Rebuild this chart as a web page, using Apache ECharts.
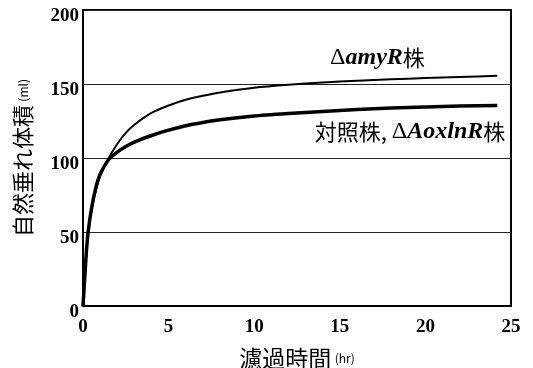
<!DOCTYPE html>
<html><head><meta charset="utf-8">
<script src="https://cdn.jsdelivr.net/npm/echarts@6/dist/echarts.min.js"></script>
<style>html,body{margin:0;padding:0;background:#fff}#c{width:533px;height:368px}</style>
</head><body><div id="c"></div>
<script>
var xTicks = [0, 5, 10, 15, 20, 25];
var yTicks = [0, 50, 100, 150, 200];
var amyRX = [0, 0.1, 0.2, 0.3, 0.5, 0.75, 1.0, 1.5, 2.0, 2.5, 3.0, 4.0, 5.0, 6.0, 7.0, 8.0, 10, 12, 14, 16, 18, 20, 22, 24.2];
var amyRY = [0, 18, 36, 49, 65, 78, 88, 100, 109.5, 117, 122.5, 130.5, 135.5, 139.3, 142, 144.3, 147.5, 149.5, 151, 152.2, 153.2, 154, 154.8, 155.5];
var ctrlX = [0, 0.1, 0.2, 0.3, 0.5, 0.75, 1.0, 1.5, 2.0, 2.5, 3.0, 4.0, 5.0, 6.0, 7.0, 8.0, 10, 12, 14, 16, 18, 20, 22, 24.2];
var ctrlY = [0, 19, 37, 50, 66, 80, 89, 99, 104, 107.8, 110.8, 115.2, 118.8, 121.8, 124, 125.8, 128.3, 130, 131.5, 132.8, 133.8, 134.5, 135.1, 135.5];
var labelAmyR = [17.2, 167.5];
var labelCtrl = [19.1, 118];

function pairs(xs, ys) { return xs.map(function (x, i) { return [x, ys[i]]; }); }

var serif = 'Liberation Serif';
var cjk = 'Noto Sans CJK JP';
var richLbl = {
  d: { fontFamily: serif, fontSize: 24, color: '#000' },
  i: { fontFamily: serif, fontSize: 24, fontStyle: 'italic', fontWeight: 'bold', color: '#000' },
  c: { fontFamily: cjk, fontSize: 22, color: '#000' }
};
var chart = echarts.init(document.getElementById('c'));
chart.setOption({
  animation: false,
  grid: { left: 83, right: 22, top: 10, bottom: 62, show: true, borderColor: '#000', borderWidth: 2, backgroundColor: 'transparent', containLabel: false, outerBoundsMode: 'none' },
  xAxis: {
    type: 'value', min: xTicks[0], max: xTicks[xTicks.length - 1], interval: 5,
    axisLine: { show: true, lineStyle: { color: '#000', width: 2 } },
    axisTick: { show: false }, splitLine: { show: false },
    axisLabel: { color: '#000', fontFamily: serif, fontWeight: 'bold', fontSize: 19, margin: 12 },
    name: '{a|濾過時間} {b|(hr)}', nameLocation: 'middle', nameGap: 41,
    nameTextStyle: { rich: {
      a: { fontFamily: cjk, fontSize: 23, color: '#000' },
      b: { fontFamily: cjk, fontSize: 12, color: '#000' } } }
  },
  yAxis: {
    type: 'value', min: yTicks[0], max: yTicks[yTicks.length - 1], interval: 50,
    axisLine: { show: true, lineStyle: { color: '#000', width: 2 } },
    axisTick: { show: false },
    splitLine: { show: true, lineStyle: { color: '#222', width: 1 } },
    axisLabel: { color: '#000', fontFamily: serif, fontWeight: 'bold', fontSize: 19, margin: 4, verticalAlign: 'top', lineHeight: 13 },
    name: '{a|自然垂れ体積} {b|(ml)}', nameLocation: 'middle', nameGap: 49, nameRotate: 90,
    nameTextStyle: { rich: {
      a: { fontFamily: cjk, fontSize: 22, color: '#000' },
      b: { fontFamily: cjk, fontSize: 12, color: '#000' } } }
  },
  series: [
    {
      type: 'line', data: pairs(amyRX, amyRY), smooth: 0.2, showSymbol: false,
      lineStyle: { color: '#000', width: 2 },
      markPoint: {
        symbol: 'circle', symbolSize: 0,
        data: [{ coord: labelAmyR }],
        label: { show: true, position: 'inside', formatter: '{d|Δ}{i|amyR}{c|株}', rich: richLbl }
      }
    },
    {
      type: 'line', data: pairs(ctrlX, ctrlY), smooth: 0.2, showSymbol: false,
      lineStyle: { color: '#000', width: 3.5 },
      markPoint: {
        symbol: 'circle', symbolSize: 0,
        data: [{ coord: labelCtrl }],
        label: { show: true, position: 'inside', formatter: '{c|対照株, }{d|Δ}{i|AoxlnR}{c|株}', rich: richLbl }
      }
    }
  ]
});
</script></body></html>
